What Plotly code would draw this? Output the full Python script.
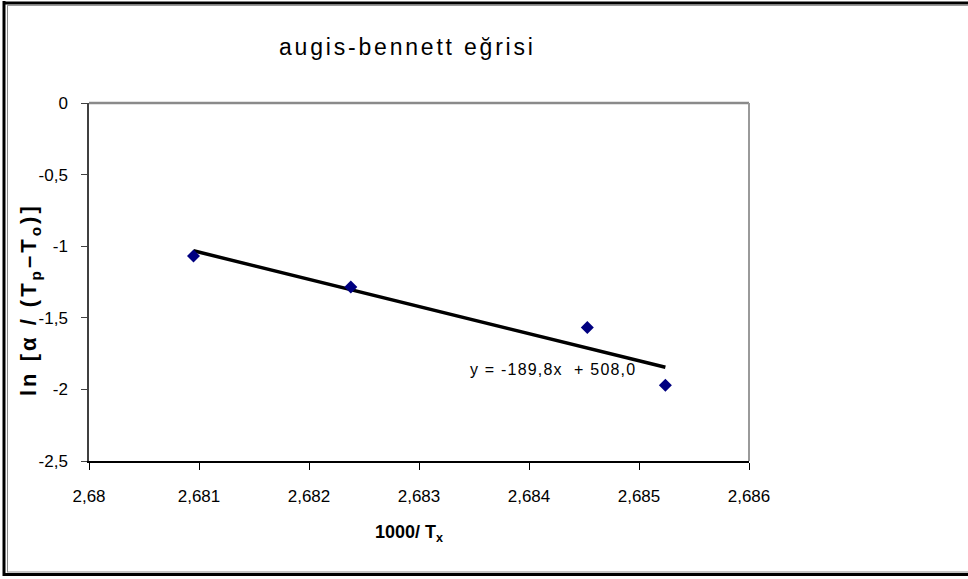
import numpy as np
import plotly.graph_objects as go

# Measured points: 1000/Tx versus ln[alpha/(Tp - To)]
inv_tx = [2.68095, 2.68238, 2.68453, 2.68524]
ln_rate = [-1.068, -1.285, -1.568, -1.971]

x_ticks = [2.680, 2.681, 2.682, 2.683, 2.684, 2.685, 2.686]
x_tick_text = ["2,68", "2,681", "2,682", "2,683", "2,684", "2,685", "2,686"]
y_ticks = [0, -0.5, -1, -1.5, -2, -2.5]
y_tick_text = ["0", "-0,5", "-1", "-1,5", "-2", "-2,5"]

chart_title = "augis-bennett eğrisi"
fit_label = "y = -189,8x  + 508,0"

# Least-squares line across the span of the data
slope, intercept = np.polyfit(inv_tx, ln_rate, 1)
fit_x = [min(inv_tx), max(inv_tx)]
fit_y = [slope * v + intercept for v in fit_x]

W, H = 968, 579
L, R, T, B = 89, 219, 103, 118
PW, PH = W - L - R, H - T - B


def px(xp):
    return (xp - L) / PW


def py(yp):
    return (H - B - yp) / PH


def spaced(text, gap):
    return f'<span style="letter-spacing:{gap}px">{text}</span>'


FONT = "Liberation Sans, Arial, sans-serif"

fig = go.Figure()
fig.add_trace(go.Scatter(
    x=fit_x, y=fit_y, mode="lines",
    line=dict(color="black", width=3.5),
    hoverinfo="skip", showlegend=False,
))
fig.add_trace(go.Scatter(
    x=inv_tx, y=ln_rate, mode="markers",
    marker=dict(symbol="diamond", size=10, color="#000080"),
    showlegend=False,
))

fig.update_xaxes(
    range=[2.680, 2.686], tickvals=x_ticks, ticktext=x_tick_text,
    showgrid=False, zeroline=False,
    showline=True, linecolor="black", linewidth=1.5,
    ticks="outside", ticklen=7, tickcolor="black", tickwidth=1,
    tickfont=dict(family=FONT, size=17, color="black"),
    ticklabelstandoff=12,
)
fig.update_yaxes(
    range=[-2.5, 0], tickvals=y_ticks, ticktext=y_tick_text,
    showgrid=False, zeroline=False,
    showline=True, linecolor="#404040", linewidth=1.5,
    ticks="outside", ticklen=6, tickcolor="#404040", tickwidth=1,
    tickfont=dict(family=FONT, size=17, color="black"),
    ticklabelstandoff=10,
)

shapes = [
    # top and right edges of the plot area
    dict(type="line", xref="paper", yref="paper", x0=0, x1=1, y0=1, y1=1,
         line=dict(color="#8a8a8a", width=2.5)),
    dict(type="line", xref="paper", yref="paper", x0=1, x1=1, y0=0, y1=1,
         line=dict(color="#9a9a9a", width=2)),
    # outer chart frame
    dict(type="line", xref="paper", yref="paper", x0=px(4), x1=px(4), y0=py(1), y1=py(576),
         line=dict(color="black", width=3)),
    dict(type="line", xref="paper", yref="paper", x0=px(7.5), x1=px(7.5), y0=py(5), y1=py(572),
         line=dict(color="#8a8a8a", width=1)),
    dict(type="line", xref="paper", yref="paper", x0=px(3), x1=px(980), y0=py(3), y1=py(3),
         line=dict(color="black", width=3)),
    dict(type="line", xref="paper", yref="paper", x0=px(7), x1=px(980), y0=py(5.5), y1=py(5.5),
         line=dict(color="#9a9a9a", width=1)),
    dict(type="line", xref="paper", yref="paper", x0=px(3), x1=px(980), y0=py(574.5), y1=py(574.5),
         line=dict(color="black", width=3)),
    dict(type="line", xref="paper", yref="paper", x0=px(7), x1=px(980), y0=py(572), y1=py(572),
         line=dict(color="#8a8a8a", width=1)),
]

annotations = [
    dict(text=spaced(chart_title, 2.8), xref="paper", yref="paper", x=px(407), y=py(47),
         showarrow=False, xanchor="center", yanchor="middle",
         font=dict(family=FONT, size=23, color="black")),
    dict(text="<b>1000/ T<sub>x</sub></b>", xref="paper", yref="paper", x=px(409), y=py(533),
         showarrow=False, xanchor="center", yanchor="middle",
         font=dict(family=FONT, size=18, color="black")),
    dict(text=spaced("<b>ln [α / (T<sub>p</sub>–T<sub>o</sub>)]</b>", 3),
         xref="paper", yref="paper",
         x=px(30), y=py(300), textangle=-90, showarrow=False,
         xanchor="center", yanchor="middle",
         font=dict(family=FONT, size=22, color="black")),
    dict(text=spaced(fit_label, 1.2), xref="paper", yref="paper", x=px(553), y=py(369),
         showarrow=False, xanchor="center", yanchor="middle",
         font=dict(family=FONT, size=16, color="black")),
]

fig.update_layout(
    width=W, height=H,
    margin=dict(l=L, r=R, t=T, b=B),
    paper_bgcolor="white", plot_bgcolor="white",
    shapes=shapes, annotations=annotations,
    showlegend=False,
)

fig.write_html("out.html")
